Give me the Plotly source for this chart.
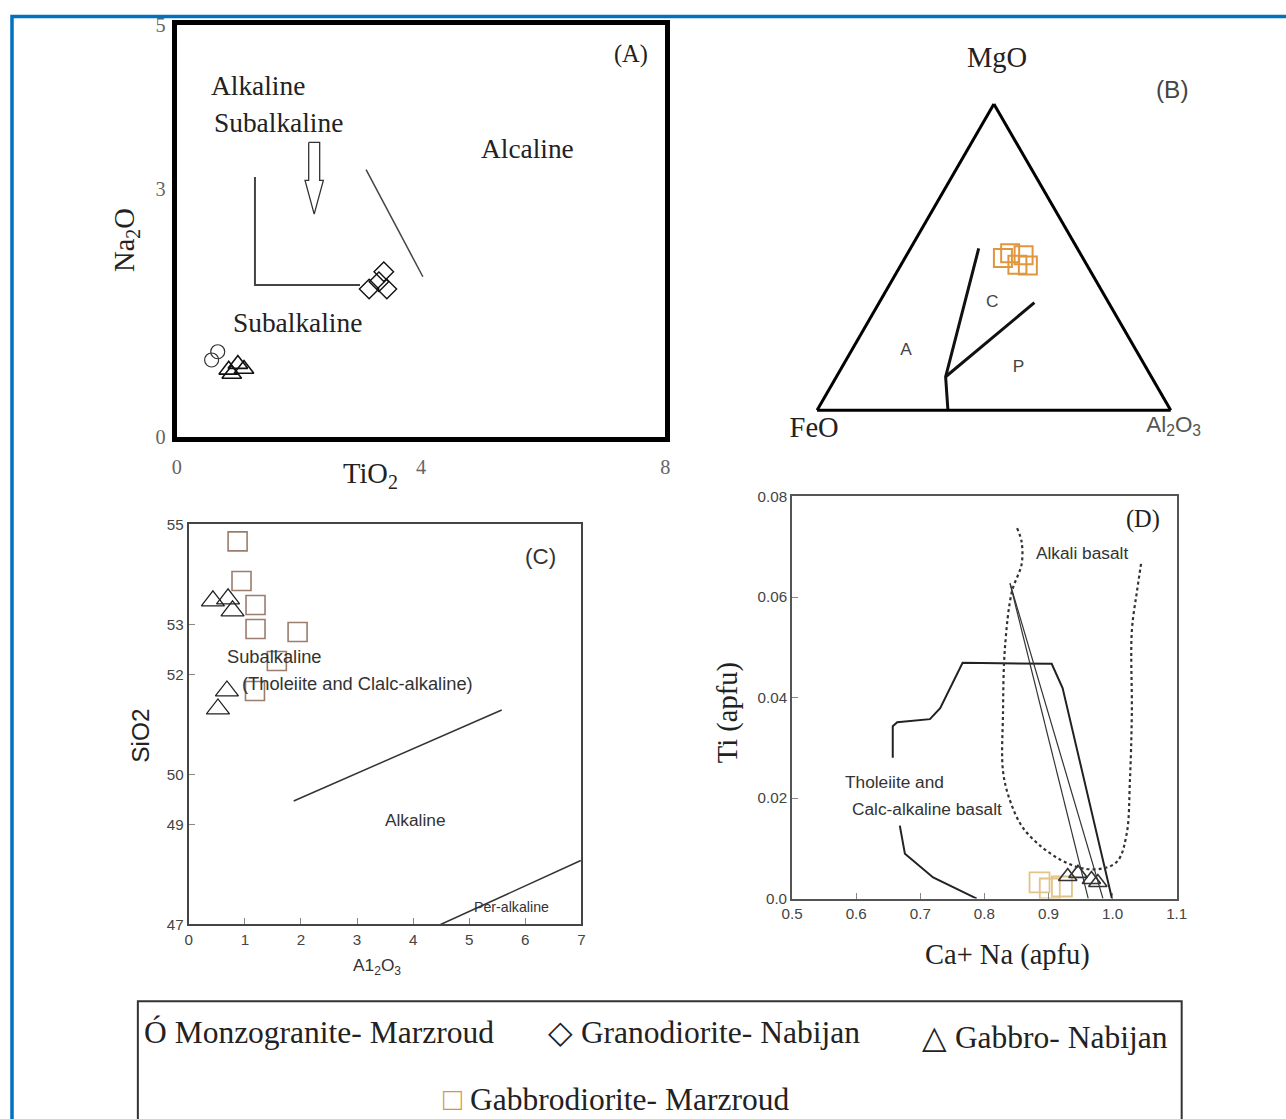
import plotly.graph_objects as go

W, H = 1286, 1119
# the page is photographed with a small frame round it; these map picture pixels to page pixels
OX, OY = 10.0, 8.4
SX, SY = 0.984, 0.9826
SERIF = "Liberation Serif"
SANS = "Liberation Sans"

# ---------------- Panel A : Na2O vs TiO2 ----------------
a_circ_tio2 = [0.57, 0.67]
a_circ_na2o = [0.93, 1.03]
a_tri_tio2 = [1.00, 1.10, 0.90, 0.85]
a_tri_na2o = [0.88, 0.82, 0.76, 0.81]
a_dia_tio2 = [3.15, 3.39, 3.44, 3.31]
a_dia_na2o = [1.79, 2.00, 1.79, 1.88]
a_bound1_x = [1.28, 1.28, 3.00]
a_bound1_y = [3.15, 1.84, 1.84]
a_bound2_x = [3.10, 4.03]
a_bound2_y = [3.24, 1.94]
a_arrow_x = [2.16, 2.34, 2.34, 2.40, 2.25, 2.10, 2.16, 2.16]
a_arrow_y = [3.57, 3.57, 3.11, 3.11, 2.70, 3.11, 3.11, 3.57]
a_xticks = [0, 4, 8]
a_yticks = [0, 3, 5]

# ---------------- Panel B : MgO-FeO-Al2O3 ternary ----------------
b_sq_mgo = [0.497, 0.512, 0.506, 0.472, 0.475]
b_sq_feo = [0.226, 0.198, 0.163, 0.168, 0.196]
b_sq_al2o3 = [0.277, 0.290, 0.331, 0.360, 0.329]
b_left_mgo = [0.0, 0.109, 0.528]
b_left_feo = [0.63, 0.582, 0.279]
b_left_al2o3 = [0.37, 0.309, 0.193]
b_right_mgo = [0.109, 0.351]
b_right_feo = [0.582, 0.210]
b_right_al2o3 = [0.309, 0.439]
b_lab_text = ["A", "C", "P"]
b_lab_mgo = [0.193, 0.351, 0.140]
b_lab_feo = [0.652, 0.329, 0.360]
b_lab_al2o3 = [0.155, 0.320, 0.500]

# ---------------- Panel C : SiO2 vs Al2O3 ----------------
c_sq_al2o3 = [0.87, 0.94, 1.19, 1.19, 1.94, 1.57, 1.18]
c_sq_sio2 = [54.66, 53.87, 53.39, 52.91, 52.85, 52.27, 51.67]
c_tri_al2o3 = [0.43, 0.70, 0.78, 0.68, 0.52]
c_tri_sio2 = [53.47, 53.51, 53.27, 51.67, 51.31]
c_line1_x = [1.87, 5.58]
c_line1_y = [49.47, 51.29]
c_line2_x = [4.49, 6.99]
c_line2_y = [47.0, 48.28]
c_yticks = [47, 49, 50, 52, 53, 55]

# ---------------- Panel D : Ti vs Ca+Na ----------------
d_sq_cana = [0.886, 0.902, 0.921]
d_sq_ti = [0.0032, 0.0020, 0.0024]
d_tri_cana = [0.930, 0.946, 0.967, 0.977]
d_tri_ti = [0.0044, 0.0050, 0.0038, 0.0032]
d_thol_x = [0.657, 0.657, 0.664, 0.715, 0.731, 0.766, 0.905, 0.922, 0.999]
d_thol_y = [0.0280, 0.0343, 0.0351, 0.0357, 0.0379, 0.0469, 0.0467, 0.0419, 0.0]
d_low_x = [0.668, 0.676, 0.720, 0.788]
d_low_y = [0.0145, 0.0089, 0.0042, 0.0]
d_thin1_x = [0.840, 0.962]
d_thin1_y = [0.0627, 0.0]
d_thin2_x = [0.840, 0.985]
d_thin2_y = [0.0627, 0.0]
d_alk_x = [0.851, 0.858, 0.858, 0.843, 0.832, 0.829, 0.829, 0.840, 0.860, 0.891,
           0.922, 0.953, 0.985, 1.008, 1.022, 1.027, 1.030, 1.030, 1.038, 1.045]
d_alk_y = [0.0737, 0.0710, 0.0665, 0.0611, 0.0498, 0.0367, 0.0254, 0.0195, 0.0141, 0.0101,
           0.0075, 0.0060, 0.0060, 0.0075, 0.0129, 0.0234, 0.0367, 0.0532, 0.0611, 0.0671]
d_yticks = [0.0, 0.02, 0.04, 0.06, 0.08]
d_yticktext = ["0.0", "0.02", "0.04", "0.06", "0.08"]

# legend
legend_items = [
    ("Ó", "Monzogranite- Marzroud", 141, 1032, "#222"),
    ("◇", "Granodiorite- Nabijan", 546, 1032, "#222"),
    ("△", "Gabbro- Nabijan", 920, 1037, "#222"),
    ("□", "Gabbrodiorite- Marzroud", 440, 1099, "#d9963a"),
]

ORANGE = "#e0963c"
BROWN = "#9c7c6c"
TAN = "#e2c48a"


def px(x):
    return (x - OX) / SX / W


def py(y):
    return 1 - (y - OY) / SY / H


def fs(s):
    return round(s / SX, 1)


fig = go.Figure()

# Panel A traces
fig.add_trace(go.Scatter(x=a_bound1_x, y=a_bound1_y, mode="lines",
                         line=dict(color="#444", width=2), xaxis="x", yaxis="y"))
fig.add_trace(go.Scatter(x=a_bound2_x, y=a_bound2_y, mode="lines",
                         line=dict(color="#444", width=1.5), xaxis="x", yaxis="y"))
fig.add_trace(go.Scatter(x=a_arrow_x, y=a_arrow_y, mode="lines",
                         line=dict(color="#333", width=1.3), xaxis="x", yaxis="y"))
fig.add_trace(go.Scatter(x=a_circ_tio2, y=a_circ_na2o, mode="markers",
                         marker=dict(symbol="circle-open", size=14, color="#333",
                                     line=dict(width=1.2)), xaxis="x", yaxis="y"))
fig.add_trace(go.Scatter(x=a_tri_tio2, y=a_tri_na2o, mode="markers",
                         marker=dict(symbol="triangle-up-open", size=17, color="#111",
                                     line=dict(width=1.6)), xaxis="x", yaxis="y"))
fig.add_trace(go.Scatter(x=a_dia_tio2, y=a_dia_na2o, mode="markers",
                         marker=dict(symbol="diamond-open", size=15, color="#111",
                                     line=dict(width=1.4)), xaxis="x", yaxis="y"))

# Panel B (ternary)
fig.add_trace(go.Scatterternary(a=b_left_mgo, b=b_left_feo, c=b_left_al2o3, mode="lines",
                                line=dict(color="#111", width=3), subplot="ternary"))
fig.add_trace(go.Scatterternary(a=b_right_mgo, b=b_right_feo, c=b_right_al2o3, mode="lines",
                                line=dict(color="#111", width=3), subplot="ternary"))
fig.add_trace(go.Scatterternary(a=b_sq_mgo, b=b_sq_feo, c=b_sq_al2o3, mode="markers",
                                marker=dict(symbol="square-open", size=18, color=ORANGE,
                                            line=dict(width=2)), subplot="ternary"))
fig.add_trace(go.Scatterternary(a=b_lab_mgo, b=b_lab_feo, c=b_lab_al2o3, mode="text",
                                text=b_lab_text,
                                textfont=dict(family=SANS, size=fs(17), color="#444"),
                                subplot="ternary"))

# Panel C traces
fig.add_trace(go.Scatter(x=c_line1_x, y=c_line1_y, mode="lines",
                         line=dict(color="#333", width=1.5), xaxis="x2", yaxis="y2"))
fig.add_trace(go.Scatter(x=c_line2_x, y=c_line2_y, mode="lines",
                         line=dict(color="#333", width=1.5), xaxis="x2", yaxis="y2"))
fig.add_trace(go.Scatter(x=c_sq_al2o3, y=c_sq_sio2, mode="markers",
                         marker=dict(symbol="square-open", size=19, color=BROWN,
                                     line=dict(width=1.6)), xaxis="x2", yaxis="y2"))
fig.add_trace(go.Scatter(x=c_tri_al2o3, y=c_tri_sio2, mode="markers",
                         marker=dict(symbol="triangle-up-open", size=20, color="#222",
                                     line=dict(width=1.3)), xaxis="x2", yaxis="y2"))

# Panel D traces
fig.add_trace(go.Scatter(x=d_thol_x, y=d_thol_y, mode="lines",
                         line=dict(color="#222", width=2), xaxis="x3", yaxis="y3"))
fig.add_trace(go.Scatter(x=d_low_x, y=d_low_y, mode="lines",
                         line=dict(color="#222", width=2), xaxis="x3", yaxis="y3"))
fig.add_trace(go.Scatter(x=d_thin1_x, y=d_thin1_y, mode="lines",
                         line=dict(color="#333", width=1.2), xaxis="x3", yaxis="y3"))
fig.add_trace(go.Scatter(x=d_thin2_x, y=d_thin2_y, mode="lines",
                         line=dict(color="#333", width=1.2), xaxis="x3", yaxis="y3"))
fig.add_trace(go.Scatter(x=d_alk_x, y=d_alk_y, mode="lines", line_shape="spline",
                         line=dict(color="#333", width=2.2, dash="dot"), xaxis="x3", yaxis="y3"))
fig.add_trace(go.Scatter(x=d_sq_cana, y=d_sq_ti, mode="markers",
                         marker=dict(symbol="square-open", size=20, color=TAN,
                                     line=dict(width=1.8)), xaxis="x3", yaxis="y3"))
fig.add_trace(go.Scatter(x=d_tri_cana, y=d_tri_ti, mode="markers",
                         marker=dict(symbol="triangle-up-open", size=16, color="#333",
                                     line=dict(width=1.6)), xaxis="x3", yaxis="y3"))

tickA = dict(family=SERIF, size=fs(20), color="#666")
tickC = dict(family=SANS, size=fs(15), color="#444")

fig.update_layout(
    width=W, height=H, margin=dict(l=0, r=0, t=0, b=0),
    paper_bgcolor="white", plot_bgcolor="white", showlegend=False,
    xaxis=dict(domain=[px(176), px(665)], anchor="y", range=[0, 8],
               tickvals=a_xticks, showgrid=False, zeroline=False,
               showline=True, linewidth=5, linecolor="black", mirror=True,
               ticks="", tickfont=tickA, ticklabelstandoff=8),
    yaxis=dict(domain=[py(435), py(22)], anchor="x", range=[0, 5],
               tickvals=a_yticks, showgrid=False, zeroline=False,
               showline=True, linewidth=5, linecolor="black", mirror=True,
               ticks="", tickfont=tickA, ticklabelstandoff=2),
    xaxis2=dict(domain=[px(188), px(581)], anchor="y2", range=[0, 7], dtick=1,
                showgrid=False, zeroline=False, showline=True, linewidth=2,
                linecolor="#444", mirror=True, ticks="inside", ticklen=6,
                tickcolor="#888", tickfont=tickC),
    yaxis2=dict(domain=[py(924), py(523)], anchor="x2", range=[47, 55],
                tickvals=c_yticks, showgrid=False, zeroline=False, showline=True,
                linewidth=2, linecolor="#444", mirror=True, ticks="inside",
                ticklen=6, tickcolor="#888", tickfont=tickC),
    xaxis3=dict(domain=[px(792), px(1177)], anchor="y3", range=[0.5, 1.1], dtick=0.1,
                tickformat=".1f", showgrid=False, zeroline=False, showline=True,
                linewidth=2, linecolor="#555", mirror=True, ticks="inside",
                ticklen=6, tickcolor="#888", tickfont=tickC),
    yaxis3=dict(domain=[py(898), py(495)], anchor="x3", range=[0, 0.08],
                tickvals=d_yticks, ticktext=d_yticktext, showgrid=False,
                zeroline=False, showline=True, linewidth=2, linecolor="#555",
                mirror=True, ticks="inside", ticklen=6, tickcolor="#888",
                tickfont=tickC),
    ternary=dict(
        domain=dict(x=[px(817), px(1171)], y=[py(410), py(100)]),
        sum=1, bgcolor="white",
        aaxis=dict(title=dict(text=""),
                   showticklabels=False, ticks="", showgrid=False,
                   linecolor="black", linewidth=3),
        baxis=dict(title=dict(text="FeO", font=dict(family=SERIF, size=fs(28), color="#222")),
                   showticklabels=False, ticks="", showgrid=False,
                   linecolor="black", linewidth=3),
        caxis=dict(title=dict(text="Al<sub>2</sub>O<sub>3</sub>",
                              font=dict(family=SANS, size=fs(22), color="#555")),
                   showticklabels=False, ticks="", showgrid=False,
                   linecolor="black", linewidth=3),
    ),
)

ann = []


def paper_text(text, x, y, font, angle=0, xanchor="center"):
    ann.append(dict(text=text, x=px(x), y=py(y), xref="paper", yref="paper",
                    showarrow=False, font=font, textangle=angle,
                    xanchor=xanchor, yanchor="middle"))


def data_text(text, x, y, ax, font, xanchor="center"):
    ann.append(dict(text=text, x=x, y=y, xref=ax[0], yref=ax[1], showarrow=False,
                    font=font, xanchor=xanchor, yanchor="middle"))


fA = dict(family=SERIF, size=fs(27), color="#222")
data_text("Alkaline", 1.33, 4.26, ("x", "y"), fA)
data_text("Subalkaline", 1.67, 3.80, ("x", "y"), fA)
data_text("Alcaline", 5.75, 3.49, ("x", "y"), fA)
data_text("Subalkaline", 1.98, 1.38, ("x", "y"), fA)
data_text("(A)", 7.44, 4.64, ("x", "y"), dict(family=SERIF, size=fs(24), color="#222"))

fC = dict(family=SANS, size=fs(18), color="#333")
data_text("Subalkaline", 1.52, 52.35, ("x2", "y2"), fC)
data_text("(Tholeiite and Clalc-alkaline)", 3.01, 51.81, ("x2", "y2"), fC)
data_text("Alkaline", 4.05, 49.08, ("x2", "y2"), dict(family=SANS, size=fs(17), color="#333"))
data_text("Per-alkaline", 5.76, 47.34, ("x2", "y2"), dict(family=SANS, size=fs(14), color="#333"))
data_text("(C)", 6.27, 54.35, ("x2", "y2"), dict(family=SANS, size=fs(22), color="#333"))

fD = dict(family=SANS, size=fs(17), color="#333")
data_text("Alkali basalt", 0.952, 0.0687, ("x3", "y3"), fD)
data_text("Tholeiite and", 0.579, 0.0232, ("x3", "y3"), fD, xanchor="left")
data_text("Calc-alkaline basalt", 0.590, 0.0179, ("x3", "y3"), fD, xanchor="left")
data_text("(D)", 1.047, 0.0756, ("x3", "y3"), dict(family=SERIF, size=fs(24), color="#222"))

paper_text("(B)", 1173, 87, dict(family=SANS, size=fs(24), color="#444"))
paper_text("MgO", 997, 55, dict(family=SERIF, size=fs(28), color="#222"))

# axis titles
paper_text("Na<sub>2</sub>O", 125, 238, dict(family=SERIF, size=fs(28), color="#222"), angle=-90)
paper_text("TiO<sub>2</sub>", 370, 474, dict(family=SERIF, size=fs(28), color="#222"))
paper_text("SiO2", 140, 735, dict(family=SANS, size=fs(24), color="#222"), angle=-90)
paper_text("A1<sub>2</sub>O<sub>3</sub>", 376, 966, dict(family=SANS, size=fs(17), color="#333"))
paper_text("Ti (apfu)", 728, 712, dict(family=SERIF, size=fs(28), color="#222"), angle=-90)
paper_text("Ca+ Na (apfu)", 1008, 955, dict(family=SERIF, size=fs(28), color="#222"))

# legend
for sym, label, x0, y0, col in legend_items:
    ann.append(dict(text=f"<span style='color:{col}'>{sym}</span> {label}",
                    x=px(x0), y=py(y0), xref="paper", yref="paper", showarrow=False,
                    xanchor="left", yanchor="middle",
                    font=dict(family=SERIF, size=fs(31), color="#222")))

fig.update_layout(annotations=ann)

fig.update_layout(shapes=[
    dict(type="rect", xref="paper", yref="paper", x0=px(137), x1=px(1182),
         y0=py(1140), y1=py(1001), line=dict(color="#333", width=2)),
    dict(type="rect", xref="paper", yref="paper", x0=px(11), x1=px(1300),
         y0=py(1150), y1=py(14), line=dict(color="#0070c0", width=3.5)),
])

fig.write_html(
    "out.html",
    config={"displayModeBar": False},
    post_script="document.body.style.margin='0';document.body.style.overflow='hidden';",
)
